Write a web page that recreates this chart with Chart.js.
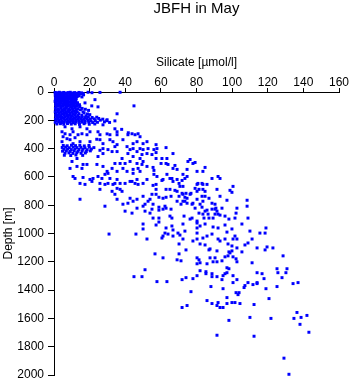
<!DOCTYPE html>
<html><head><meta charset="utf-8">
<script src="https://cdn.jsdelivr.net/npm/chart.js@4/dist/chart.umd.min.js"></script>
<style>html,body{margin:0;padding:0;background:#fff}#wrap{width:351px;height:384px}</style>
</head><body><div id="wrap"><canvas id="c" width="351" height="384"></canvas></div>
<script>
const chartTitle = 'JBFH in May';
const xTitle = 'Silicate [\u00b5mol/l]';
const yTitle = 'Depth [m]';
const silicateTicks = [0, 20, 40, 60, 80, 100, 120, 140, 160];
const depthTicks = [0, 200, 400, 600, 800, 1000, 1200, 1400, 1600, 1800, 2000];

// [silicate, depth] pairs
const surfaceBlob = [
[0.6,3],[1.8,5],[3.0,2],[4.2,6],[5.5,3],[6.6,8],[7.9,4],[9.1,2],[10.3,7],[11.6,4],[12.8,9],[14.0,3],[15.4,6],[16.4,10],
[0.9,13],[2.4,15],[3.6,12],[5.1,16],[6.2,13],[7.4,17],[8.8,14],[10.0,12],[11.3,18],[12.6,14],[13.7,16],[14.9,13],
[0.7,23],[1.9,25],[3.2,21],[4.6,26],[5.8,22],[7.1,24],[8.3,27],[9.7,21],[10.9,25],[12.2,23],[14.1,27],
[1.2,34],[2.6,32],[3.9,36],[5.3,33],[6.5,35],[7.8,31],[9.0,37],[10.4,33],[11.7,36],[13.0,32],
[0.8,45],[2.1,43],[3.4,47],[4.8,42],[6.0,46],[7.3,44],[8.6,41],[9.9,47],[11.1,44],[12.5,46],
[1.0,55],[2.3,57],[3.7,53],[5.0,58],[6.3,54],[7.6,56],[8.9,52],[10.2,58],[11.5,55],
[0.6,66],[1.9,64],[3.3,68],[4.5,63],[5.9,67],[7.2,65],[8.5,69],[9.8,63],[11.0,67],[12.3,65],
[1.3,77],[2.7,75],[4.0,79],[5.4,74],[6.8,78],[8.0,76],[9.4,80],[10.6,74],[11.9,78],[13.2,76],
[0.9,88],[2.2,86],[3.5,90],[4.9,85],[6.1,89],[7.5,87],[8.7,91],[10.0,85],[11.4,89],[12.8,87],[14.3,90],
[1.1,100],[2.5,98],[3.8,102],[5.2,97],[6.6,101],[7.9,99],[9.3,103],[10.5,97],[11.8,101],[13.1,99],[14.5,103],
[19.1,2],[21.3,5],[25.8,3],[37.1,2],[23.0,54],[15.7,35],[44.9,98],[24.7,105],[17.4,77],[21.2,98],[16.6,20]
];
const band200 = [
[0.8,115],[2.3,118],[3.9,113],[5.4,117],[7.0,114],[8.5,119],[10.1,115],[11.6,112],[13.2,118],[15.8,116],
[1.4,128],[3.0,125],[4.6,130],[6.1,126],[7.7,131],[9.2,127],[10.8,124],[12.5,129],[14.8,126],[17.6,122],[19.4,130],
[0.7,140],[2.2,138],[3.7,142],[5.3,137],[6.9,141],[8.4,139],[10.0,143],[11.5,137],[13.1,141],[16.3,140],
[1.2,152],[2.8,150],[4.3,154],[5.9,149],[7.4,153],[9.0,151],[10.6,155],[12.1,149],[14.0,153],[16.9,147],[18.8,155],
[0.9,165],[2.5,163],[4.0,167],[5.6,162],[7.1,166],[8.7,164],[10.3,168],[11.8,162],[13.5,166],[15.6,164],[17.9,168],[20.1,160],
[1.5,178],[3.1,176],[4.7,180],[6.3,175],[7.9,179],[9.4,177],[11.0,181],[12.6,175],[14.2,179],[15.9,177],[17.5,181],[19.3,176],[21.4,180],[24.0,178],
[0.8,190],[2.4,188],[4.0,192],[5.6,187],[7.2,191],[8.8,189],[10.4,193],[12.0,187],[13.6,191],[15.2,189],[16.8,193],[18.5,188],[20.3,192],[22.6,190],[25.1,187],[27.4,192],
[1.3,202],[2.9,200],[4.5,204],[6.1,199],[7.7,203],[9.3,201],[10.9,205],[12.5,199],[14.1,203],[15.7,201],[17.3,205],[19.0,200],[20.8,204],[23.2,202],[26.0,199],[29.6,203],
[0.7,214],[2.6,212],[4.2,216],[5.8,211],[7.5,215],[9.1,213],[10.7,217],[12.3,211],[14.0,215],[15.6,213],[17.4,217],[19.5,212],[21.7,216],[24.4,214],[28.3,211],
[1.6,226],[3.6,224],[5.5,228],[7.6,223],[9.7,227],[11.9,225],[14.3,229],[16.9,224],[19.8,228],[22.9,226],
[35.4,154],[29.8,196],[27.5,232],[34.2,204],[31.2,215]
];
const scatter300 = [
[34.2,260],[35.4,281],[35.4,302],[31.4,302],[29.8,296],[25.8,302],[24.7,281],[20.2,281],[18.5,302],[15.7,295],
[13.5,302],[10.7,281],[9.0,302],[6.2,295],[4.5,281],[7.3,330],[5.1,316],[9.0,337],[18.5,260],[14.6,246],
[10.1,260],[6.2,246],[4.5,351],[10.7,365],[14.6,351],[20.2,351],[25.8,337],[27.5,365],[31.4,337],[33.1,351],
[35.4,372],[38.7,337],[41.5,302],[43.8,295],[45.5,302],[47.2,295],[48.3,316],[44.4,365],[46.6,351],[50.0,365],
[52.2,351],[11.8,323],[24.0,334],[38.0,264],[41.7,288]
];
const band400 = [
[5.2,378],[7.4,380],[9.8,376],[12.1,379],[14.5,377],[17.0,381],[19.6,378],
[4.6,392],[6.5,390],[8.6,394],[10.7,389],[12.9,393],[15.1,391],[17.4,395],[19.8,390],[22.4,393],
[5.5,405],[7.6,403],[9.7,407],[11.8,402],[14.0,406],[16.2,404],[18.6,408],[21.0,403],
[4.8,418],[6.9,416],[9.1,420],[11.3,415],[13.5,419],[15.8,417],[18.1,421],[20.4,416],
[6.2,432],[8.4,430],[10.6,434],[12.8,429],[15.2,433],[17.6,431],
[5.8,447],[9.4,449],[12.3,445],[16.1,448],
[27.5,400],[30.3,407],[34.2,386],[35.4,421],[41.0,386],[42.7,407],[44.4,400],[48.3,400],[50.0,407],[52.8,400],
[46.6,421],[52.2,435],[49.4,442],[41.5,435],[44.4,456],[48.3,470],[32.6,421],[24.7,456],[12.9,470],[38.2,470],
[25.8,412],[27.5,435]
];
const midScatter = [
[10.1,491],[16.3,512],[15.7,540],[18.5,512],[12.9,526],[24.1,512],[27.5,526],[32.6,540],[35.4,561],[37.1,505],
[39.9,505],[42.7,491],[41.0,561],[44.4,547],[47.2,540],[49.4,512],[52.2,526],[44.4,575],[34.2,505],[46.6,505],[50.0,491],
[10.7,597],[16.3,604],[14.6,646],[17.4,653],[20.2,618],[21.9,611],[24.7,597],[26.9,611],[28.6,582],[30.3,575],
[31.4,611],[25.8,646],[28.6,653],[30.3,646],[33.1,653],[35.4,618],[37.1,646],[39.9,646],[42.7,632],[45.5,646],
[47.2,653],[50.0,646],[52.2,618],[9.0,540],[11.8,611],[21.3,632],[34.2,646],[35.4,681],[37.1,688],[43.8,632],
[46.6,618],[48.3,561],[38.7,540],[29.8,561],
[25.8,688],[32.6,702],[34.2,723],[35.4,758],[38.2,702],[42.7,751],[44.4,772],[46.6,758],[50.0,737],[51.1,793],
[52.8,772],[14.6,758],[38.7,793],[41.5,786],[46.6,821],[50.0,807],[51.1,842],[39.9,842],[43.8,856],[28.6,807],
[50.0,933],[50.0,968],[52.2,1039],[30.9,1004],[46.0,1004],[44.9,1305],[49.4,1305],[51.1,1256]
];
const deepScatter = [
[57.3,372],[57.8,400],[57.3,428],[56.1,407],[55.0,442],[62.9,393],[66.8,435],[63.4,470],[60.6,470],[57.3,470],
[60.1,505],[62.9,505],[64.0,512],[66.8,540],[67.9,519],[69.1,547],[74.7,547],[75.2,491],[76.4,477],[78.0,505],
[79.2,498],[84.8,533],[83.6,561],[80.3,561],[55.6,533],[56.1,554],[56.1,582],[57.8,597],[63.4,582],[65.1,611],
[61.2,618],[60.6,625],[55.6,660],[57.3,653],[57.3,688],[66.2,611],[66.8,632],[69.1,618],[70.2,646],[71.9,625],
[72.4,582],[73.5,611],[70.7,667],[72.4,667],[74.7,597],[76.4,723],[76.9,716],[74.1,716],[74.7,751],[72.4,772],
[73.5,772],[74.7,786],[77.5,793],[71.3,793],[69.1,772],[65.1,688],[67.9,695],[65.7,737],[61.2,751],[58.9,744],
[62.9,744],[57.3,723],[55.0,723],[53.9,758],[55.6,793],[58.9,814],[62.3,807],[62.9,821],[65.7,828],[61.2,828],
[58.9,835],[55.0,828],[53.9,856],[55.6,891],[58.9,891],[65.1,877],[66.2,891],[73.0,877],[76.4,898],[77.5,891],
[79.2,821],[83.1,814],[81.4,856],[83.6,863],[85.9,835],[84.8,842],[80.3,912],[84.2,891],[87.0,891],[86.5,863],
[89.3,891],[90.4,863],[90.4,828],[91.5,842],[92.1,863],[93.2,870],[90.9,821],[88.7,828],[94.3,821],[96.0,877],
[98.2,898],[101.6,891],[102.7,821],[102.2,856],[108.4,765],[108.4,807],[108.9,891],[80.3,653],[80.8,646],[83.1,646],
[83.6,653],[83.6,688],[84.8,702],[85.9,653],[88.7,611],[92.1,597],[93.2,611],[91.5,688],[93.2,737],[97.1,765],
[99.9,709],[98.8,695],[100.5,667],[81.4,688],[79.2,681],[80.3,702],[83.1,737],[84.8,737],[87.0,751],[83.6,772],
[80.3,758],[78.0,786],[82.0,793],[88.7,786],[90.4,793],[71.9,716],[69.1,702],[62.9,688],[70.2,737],[72.4,723],[73.5,744],
[57.3,940],[58.9,919],[62.9,961],[62.3,997],[64.0,1004],[61.2,1018],[60.6,1032],[66.2,947],[66.8,975],[66.8,1018],
[69.6,997],[70.7,1011],[72.4,933],[73.5,983],[72.4,1039],[70.2,1074],[80.3,926],[80.3,961],[82.0,947],[80.3,997],
[80.3,1039],[78.0,1053],[84.8,933],[83.6,1032],[85.9,1018],[88.7,1004],[89.3,954],[92.1,961],[92.1,1039],[93.2,1053],
[96.0,940],[96.0,1039],[97.1,990],[99.9,968],[100.5,1039],[97.7,1074],[99.9,1088],[101.6,1018],[102.7,1039],[102.7,1102],
[105.5,933],[110.0,983],[111.2,1039],[108.9,1067],[107.2,1081],[115.6,997],[118.5,997],[119.0,961],[114.0,1102],[118.5,1116],
[119.6,1095],[122.9,1102],[82.0,1074],[84.8,1081],[87.0,1116],[91.5,1123],[98.2,1130],[99.9,1123],[105.5,1130],[56.7,1144],
[61.2,1172],[70.2,1144],[74.1,1116],[80.3,1172],[81.4,1186],[80.3,1214],[82.0,1207],[85.9,1214],[87.6,1109],[87.6,1172],
[90.4,1172],[89.3,1200],[91.5,1200],[94.3,1193],[96.0,1165],[97.7,1158],[98.8,1137],[100.5,1165],[102.2,1179],[102.7,1200],
[111.2,1207],[69.1,1186],[71.3,1193],[128.6,1158],[125.2,1249],[130.2,1277],[130.8,1249],[125.7,1277],[128.0,1312],[134.2,1354],
[137.0,1347],[125.2,1375],[119.0,1390],[120.7,1460],[114.0,1277],[116.8,1284],[117.9,1319],[114.0,1347],[111.7,1361],[114.0,1354],
[107.2,1368],[108.9,1347],[106.7,1382],[103.9,1418],[102.2,1418],[103.3,1432],[104.4,1495],[101.6,1488],[99.9,1488],[97.1,1453],
[97.1,1495],[94.9,1523],[93.2,1523],[91.5,1509],[92.1,1488],[88.7,1495],[85.9,1474],[112.3,1502],[110.0,1593],[98.2,1614],
[91.5,1719],[112.3,1726],[121.8,1600],[136.4,1558],[134.7,1600],[138.7,1593],[142.0,1579],[138.1,1642],[143.1,1698],[129.1,1881],
[131.9,1995],[71.9,1523],[74.7,1509],[76.9,1411],[88.1,1375],[94.9,1390],[100.5,1347],[102.7,1326],[100.5,1298],[97.1,1277],
[96.0,1284],[94.9,1298],[94.3,1326],[91.5,1305],[88.7,1305],[88.7,1284],[85.3,1270],[85.3,1284],[82.0,1263],[80.3,1298],
[78.0,1319],[74.1,1312],[71.9,1326],[57.8,1340],[63.4,1340],[97.1,1242],[98.2,1249]
];

const allPoints = [].concat(surfaceBlob, band200, scatter300, band400, midScatter, deepScatter)
  .map(p => ({ x: p[0], y: p[1] }));

const FONT = '"Liberation Sans", Arial, Helvetica, sans-serif';

new Chart(document.getElementById('c'), {
  type: 'scatter',
  data: { datasets: [{
    data: allPoints,
    backgroundColor: '#0000ff',
    borderWidth: 0,
    pointStyle: 'rect',
    pointRadius: 2.1,
    pointHoverRadius: 2.1,
    clip: false
  }]},
  options: {
    responsive: false,
    animation: false,
    events: [],
    layout: { padding: { left: 0, right: 12, top: 0, bottom: 9 } },
    plugins: {
      legend: { display: false },
      tooltip: { enabled: false },
      title: {
        display: true, text: chartTitle, fullSize: false, color: '#000',
        font: { family: FONT, size: 15, weight: 'normal', lineHeight: 1.2 },
        padding: { top: 0, bottom: 37.6 }
      }
    },
    scales: {
      x: {
        type: 'linear', position: 'top',
        min: silicateTicks[0], max: silicateTicks[silicateTicks.length - 1],
        afterBuildTicks: s => { s.ticks = silicateTicks.map(v => ({ value: v })); },
        ticks: { color: '#000', padding: -1, maxRotation: 0, autoSkip: false,
                 callback: v => String(v),
                 font: { family: FONT, size: 12, lineHeight: 1 } },
        grid: { display: true, drawOnChartArea: false, drawTicks: true, tickLength: 4, color: '#000', lineWidth: 1 },
        border: { display: true, color: '#000', width: 1 },
        title: { display: true, text: xTitle, color: '#000',
                 font: { family: FONT, size: 12, lineHeight: 1.2 }, padding: { top: -0.5, bottom: 8.5 } }
      },
      y: {
        type: 'linear', position: 'left', reverse: true,
        min: depthTicks[0], max: depthTicks[depthTicks.length - 1],
        afterBuildTicks: s => { s.ticks = depthTicks.map(v => ({ value: v })); },
        afterFit: s => { s.width = 54; s.paddingBottom = 0; s.paddingTop = 0; },
        ticks: { color: '#000', padding: 4, autoSkip: false,
                 callback: v => String(v),
                 font: { family: FONT, size: 12, lineHeight: 1 } },
        grid: { display: true, drawOnChartArea: false, drawTicks: true, tickLength: 6, color: '#000', lineWidth: 1 },
        border: { display: true, color: '#000', width: 1 },
        title: { display: true, text: yTitle, color: '#000',
                 font: { family: FONT, size: 12, lineHeight: 1.2 }, padding: { top: 1, bottom: 0 } }
      }
    }
  }
});
</script></body></html>
